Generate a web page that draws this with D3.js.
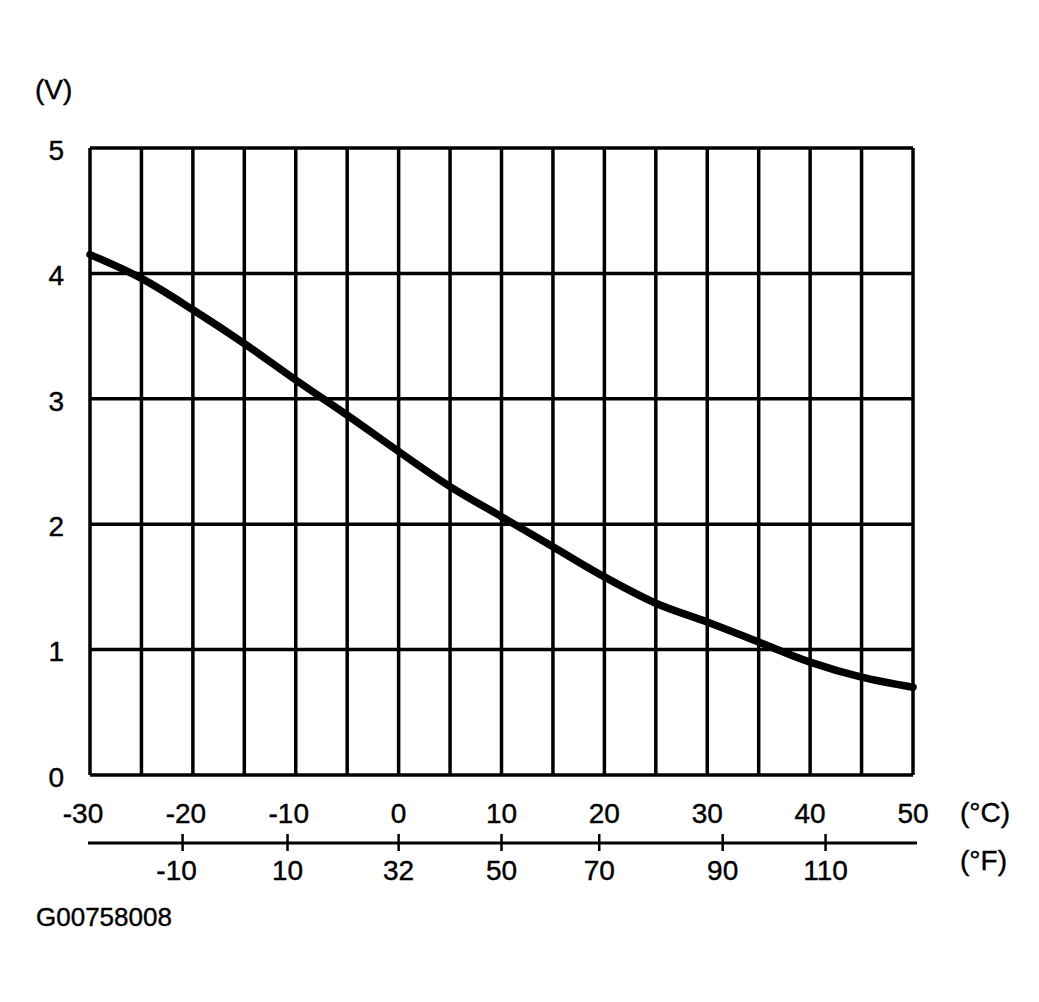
<!DOCTYPE html>
<html>
<head>
<meta charset="utf-8">
<script src="https://cdn.jsdelivr.net/npm/d3@7"></script>
<style>
  body { margin: 0; background: #fff; }
  text { font-family: "Liberation Sans", Arial, sans-serif; fill: #000; stroke: #000; stroke-width: 0.4px; }
</style>
</head>
<body>
<div id="chart"></div>
<script>
// sensor voltage vs temperature
const tempC = [-30, -25, -20, -15, -10, -5, 0, 5, 10, 15, 20, 25, 30, 35, 40, 45, 50];
const volts = [4.15, 3.96, 3.71, 3.44, 3.15, 2.87, 2.58, 2.30, 2.06, 1.82, 1.58, 1.37, 1.22, 1.06, 0.90, 0.78, 0.70];

const cTicks = [-30, -20, -10, 0, 10, 20, 30, 40, 50];
const vTicks = [0, 1, 2, 3, 4, 5];
const fTicks = [-10, 10, 32, 50, 70, 90, 110];
// where each °F tick sits on the °C scale as drawn
const fTickAtC = [-21, -10.8, 0, 10, 19.5, 31.5, 41.5];

const width = 1039, height = 1002;
const plotLeft = 90, plotRight = 913, plotTop = 148, plotBottom = 775;

const svg = d3.select("#chart").append("svg")
    .attr("width", width)
    .attr("height", height);

const x = d3.scaleLinear().domain([-30, 50]).range([plotLeft, plotRight]);
const y = d3.scaleLinear().domain([0, 5]).range([plotBottom, plotTop]);

// grid
const grid = svg.append("g").attr("stroke", "#000").attr("stroke-width", 3.5);
grid.selectAll(".vline")
    .data(tempC)
    .enter().append("line")
    .attr("class", "vline")
    .attr("x1", d => x(d)).attr("x2", d => x(d))
    .attr("y1", plotTop).attr("y2", plotBottom);
grid.selectAll(".hline")
    .data(vTicks)
    .enter().append("line")
    .attr("class", "hline")
    .attr("x1", plotLeft).attr("x2", plotRight)
    .attr("y1", d => y(d)).attr("y2", d => y(d));

// curve
svg.append("path")
    .datum(tempC.map((t, i) => [t, volts[i]]))
    .attr("fill", "none")
    .attr("stroke", "#000")
    .attr("stroke-width", 7.5)
    .attr("stroke-linecap", "round")
    .attr("d", d3.line().x(d => x(d[0])).y(d => y(d[1])).curve(d3.curveMonotoneX));

// voltage labels
svg.append("g").selectAll("text")
    .data(vTicks)
    .enter().append("text")
    .attr("x", 64)
    .attr("y", d => y(d) + 2)
    .attr("dy", "0.35em")
    .attr("text-anchor", "end")
    .style("font-size", "28px")
    .text(d => d);

svg.append("text").attr("x", 35).attr("y", 99).style("font-size", "28px").text("(V)");

// °C labels (digits centred on the line, minus hangs left)
svg.append("g").selectAll("text")
    .data(cTicks)
    .enter().append("text")
    .attr("x", d => x(d) - (d < 0 ? 7 : 0))
    .attr("y", 823)
    .attr("text-anchor", "middle")
    .style("font-size", "28px")
    .text(d => d);

svg.append("text").attr("x", 960).attr("y", 822).style("font-size", "28px").text("(°C)");

// °F scale
svg.append("line")
    .attr("x1", plotLeft - 2).attr("x2", plotRight + 4)
    .attr("y1", 843).attr("y2", 843)
    .attr("stroke", "#000").attr("stroke-width", 3);

svg.append("g").selectAll("line")
    .data(fTickAtC)
    .enter().append("line")
    .attr("x1", d => x(d)).attr("x2", d => x(d))
    .attr("y1", 834).attr("y2", 851)
    .attr("stroke", "#000").attr("stroke-width", 2.5);

svg.append("g").selectAll("text")
    .data(fTicks)
    .enter().append("text")
    .attr("x", (d, i) => x(fTickAtC[i]) - (d < 0 ? 6 : 0))
    .attr("y", 880)
    .attr("text-anchor", "middle")
    .style("font-size", "28px")
    .text(d => d);

svg.append("text").attr("x", 960).attr("y", 870).style("font-size", "28px").text("(°F)");

svg.append("text").attr("x", 36).attr("y", 926).style("font-size", "26px").text("G00758008");
</script>
</body>
</html>
